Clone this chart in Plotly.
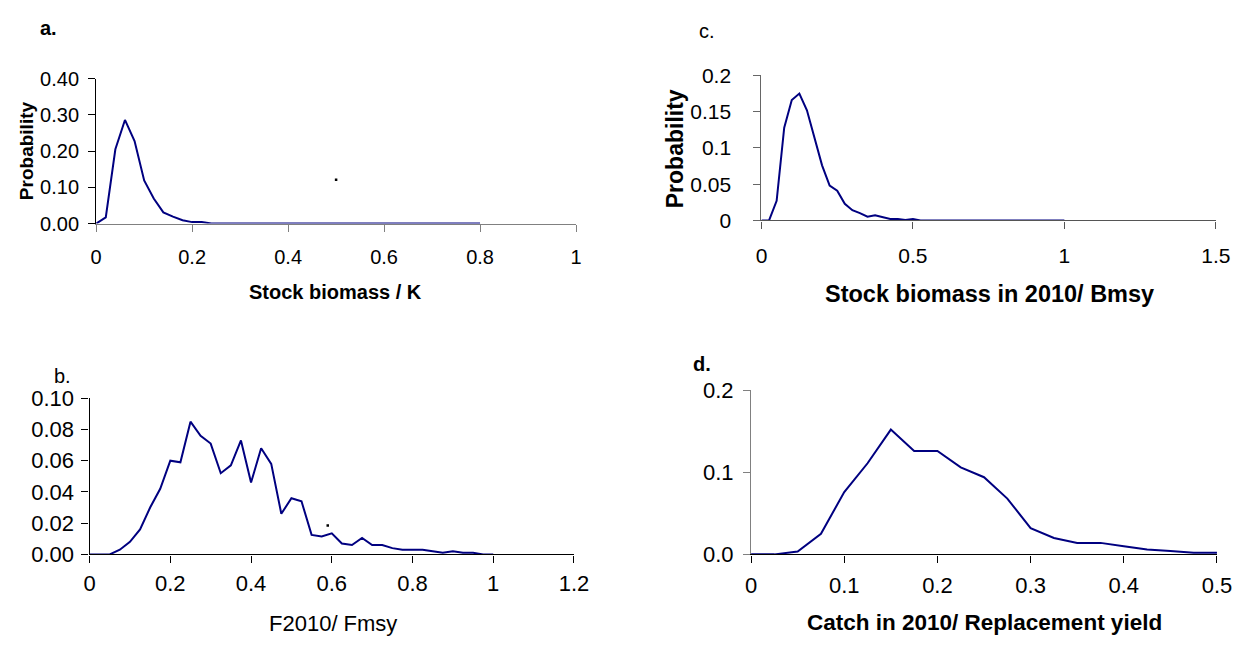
import plotly.graph_objects as go

W, H = 1260, 652

# ---- panel a: stock biomass / K ----
a_x = [0.00, 0.02, 0.04, 0.06, 0.08, 0.10, 0.12, 0.14, 0.16, 0.18, 0.20,
       0.22, 0.24, 0.26, 0.28, 0.30, 0.32, 0.34, 0.36, 0.38, 0.40,
       0.42, 0.44, 0.46, 0.48, 0.50, 0.52, 0.54, 0.56, 0.58, 0.60,
       0.62, 0.64, 0.66, 0.68, 0.70, 0.72, 0.74, 0.76, 0.78, 0.80]
a_p = [0.000, 0.017, 0.205, 0.286, 0.228, 0.119, 0.069, 0.031, 0.019, 0.009, 0.004,
       0.004, 0.000, 0.000, 0.000, 0.000, 0.000, 0.000, 0.000, 0.000, 0.000,
       0.000, 0.000, 0.000, 0.000, 0.000, 0.000, 0.000, 0.000, 0.000, 0.000,
       0.000, 0.000, 0.000, 0.000, 0.000, 0.000, 0.000, 0.000, 0.000, 0.000]
a_dot = ([0.50], [0.121])

# ---- panel b: F2010 / Fmsy ----
b_x = [0.000, 0.025, 0.050, 0.075, 0.100, 0.125, 0.150, 0.175, 0.200, 0.225,
       0.250, 0.275, 0.300, 0.325, 0.350, 0.375, 0.400, 0.425, 0.450, 0.475,
       0.500, 0.525, 0.550, 0.575, 0.600, 0.625, 0.650, 0.675, 0.700, 0.725,
       0.750, 0.775, 0.800, 0.825, 0.850, 0.875, 0.900, 0.925, 0.950, 0.975, 1.000]
b_p = [0.000, 0.000, 0.000, 0.003, 0.008, 0.016, 0.030, 0.042, 0.060, 0.059,
       0.085, 0.076, 0.071, 0.052, 0.057, 0.073, 0.046, 0.068, 0.058, 0.026,
       0.036, 0.034, 0.0125, 0.0115, 0.0135, 0.007, 0.006, 0.0105, 0.006, 0.006,
       0.004, 0.003, 0.003, 0.003, 0.002, 0.001, 0.002, 0.001, 0.001, 0.000, 0.000]
b_dot = ([0.59], [0.0185])

# ---- panel c: stock biomass in 2010 / Bmsy ----
c_x = [0.000, 0.025, 0.050, 0.075, 0.100, 0.125, 0.150, 0.175, 0.200, 0.225,
       0.250, 0.275, 0.300, 0.325, 0.350, 0.375, 0.400, 0.425, 0.450, 0.475,
       0.500, 0.525, 0.550, 0.575, 0.600, 0.625, 0.650, 0.675, 0.700, 0.725,
       0.750, 0.775, 0.800, 0.825, 0.850, 0.875, 0.900, 0.925, 0.950, 0.975, 1.000]
c_p = [0.000, 0.000, 0.027, 0.128, 0.166, 0.175, 0.152, 0.112, 0.076, 0.048,
       0.041, 0.023, 0.014, 0.010, 0.005, 0.007, 0.004, 0.002, 0.002, 0.0005,
       0.002, 0.000, 0.000, 0.000, 0.000, 0.000, 0.000, 0.000, 0.000, 0.000,
       0.000, 0.000, 0.000, 0.000, 0.000, 0.000, 0.000, 0.000, 0.000, 0.000, 0.000]

# ---- panel d: catch in 2010 / replacement yield ----
d_x = [0.000, 0.025, 0.050, 0.075, 0.100, 0.125, 0.150, 0.175, 0.200, 0.225,
       0.250, 0.275, 0.300, 0.325, 0.350, 0.375, 0.400, 0.425, 0.450, 0.475, 0.500]
d_p = [0.000, 0.000, 0.0035, 0.025, 0.076, 0.111, 0.152, 0.126, 0.126, 0.106,
       0.094, 0.068, 0.032, 0.020, 0.014, 0.014, 0.010, 0.006, 0.004, 0.002, 0.002]

# ---- tick labels ----
a_xticks = [0, 0.2, 0.4, 0.6, 0.8, 1]
a_xtext = ["0", "0.2", "0.4", "0.6", "0.8", "1"]
a_yticks = [0, 0.1, 0.2, 0.3, 0.4]
a_ytext = ["0.00", "0.10", "0.20", "0.30", "0.40"]

b_xticks = [0, 0.2, 0.4, 0.6, 0.8, 1, 1.2]
b_xtext = ["0", "0.2", "0.4", "0.6", "0.8", "1", "1.2"]
b_yticks = [0, 0.02, 0.04, 0.06, 0.08, 0.10]
b_ytext = ["0.00", "0.02", "0.04", "0.06", "0.08", "0.10"]

c_xticks = [0, 0.5, 1, 1.5]
c_xtext = ["0", "0.5", "1", "1.5"]
c_yticks = [0, 0.05, 0.1, 0.15, 0.2]
c_ytext = ["0", "0.05", "0.1", "0.15", "0.2"]

d_xticks = [0, 0.1, 0.2, 0.3, 0.4, 0.5]
d_xtext = ["0", "0.1", "0.2", "0.3", "0.4", "0.5"]
d_yticks = [0, 0.1, 0.2]
d_ytext = ["0.0", "0.1", "0.2"]

FONT = "Arial, Liberation Sans, sans-serif"
NAVY = "#000080"


def px_domain_x(x0, x1):
    return [x0 / W, x1 / W]


def px_domain_y(top, bottom):
    return [1 - bottom / H, 1 - top / H]


fig = go.Figure()

panels = [
    # name, x, y, xaxis id, yaxis id
    ("a", a_x, a_p, "x", "y"),
    ("b", b_x, b_p, "x2", "y2"),
    ("c", c_x, c_p, "x3", "y3"),
    ("d", d_x, d_p, "x4", "y4"),
]
for name, xs, ys, xa, ya in panels:
    fig.add_trace(go.Scatter(x=xs, y=ys, mode="lines", xaxis=xa, yaxis=ya,
                             line=dict(color=NAVY, width=2), showlegend=False,
                             hoverinfo="skip"))

# stray specks printed in the original figure
for (dx, dy), xa, ya in [(a_dot, "x", "y"), (b_dot, "x2", "y2")]:
    fig.add_trace(go.Scatter(x=dx, y=dy, mode="markers", xaxis=xa, yaxis=ya,
                             marker=dict(color="black", size=2.5, symbol="square"),
                             showlegend=False, hoverinfo="skip"))


def xaxis(dom, rng, vals, text, size, linecol, standoff):
    return dict(domain=dom, range=rng, tickvals=vals, ticktext=text,
                showline=True, linecolor=linecol, linewidth=1.3, ticks="outside",
                ticklen=7, tickcolor=linecol, tickwidth=1, showgrid=False,
                zeroline=False, tickfont=dict(family=FONT, size=size, color="black"),
                ticklabelstandoff=standoff, fixedrange=True)


def yaxis(dom, rng, vals, text, size, linecol, standoff, anchor):
    return dict(domain=dom, range=rng, tickvals=vals, ticktext=text,
                showline=True, linecolor=linecol, linewidth=1.3, ticks="outside",
                ticklen=7, tickcolor=linecol, tickwidth=1, showgrid=False,
                zeroline=False, tickfont=dict(family=FONT, size=size, color="black"),
                ticklabelstandoff=standoff, anchor=anchor, fixedrange=True)


fig.update_layout(
    width=W, height=H,
    margin=dict(l=0, r=0, t=0, b=0),
    paper_bgcolor="white", plot_bgcolor="white",
    xaxis=xaxis(px_domain_x(91.7, 579.7), [0, 1], a_xticks, a_xtext, 20, "#808080", 8) | dict(anchor="y"),
    yaxis=yaxis(px_domain_y(69.3, 220), [0, 0.4], a_yticks, a_ytext, 20, "#000000", 5, "x"),
    xaxis2=xaxis(px_domain_x(85, 577.6), [0, 1.2], b_xticks, b_xtext, 22, "#000000", 2) | dict(anchor="y2"),
    yaxis2=yaxis(px_domain_y(401.7, 564), [0, 0.1], b_yticks, b_ytext, 22, "#000000", 3, "x2"),
    xaxis3=xaxis(px_domain_x(768.3, 1230.3), [0, 1.5], c_xticks, c_xtext, 21, "#555555", 9) | dict(anchor="y3"),
    yaxis3=yaxis(px_domain_y(66, 216.7), [0, 0.2], c_yticks, c_ytext, 21, "#666666", 18, "x3"),
    xaxis4=xaxis(px_domain_x(757.7, 1231.5), [0, 0.5], d_xticks, d_xtext, 22, "#000000", 4) | dict(anchor="y4"),
    yaxis4=yaxis(px_domain_y(393.3, 564), [0, 0.2], d_yticks, d_ytext, 22, "#808080", 5, "x4"),
)


def label(text, x, y, size, bold=False, angle=0):
    t = f"<b>{text}</b>" if bold else text
    fig.add_annotation(text=t, x=x / W, y=1 - y / H, xref="paper", yref="paper",
                       xanchor="center", yanchor="middle", showarrow=False,
                       textangle=angle, font=dict(family=FONT, size=size, color="black"))


# panel letters
label("a.", 43, 17, 20, bold=True)
label("c.", 713, 20, 20)
label("b.", 57, 378, 20)
label("d.", 708, 366, 20, bold=True)

# axis titles
label("Probability", 21, 144, 19, bold=True, angle=-90)
label("Probability", 680, 142, 23, bold=True, angle=-90)
label("Stock biomass / K", 335, 291, 20, bold=True)
label("Stock biomass in 2010/ Bmsy", 1000, 293, 23.5, bold=True)
label("F2010/ Fmsy", 333, 636, 22)
label("Catch in 2010/ Replacement yield", 995, 635, 22.5, bold=True)

fig.write_html("out.html")
